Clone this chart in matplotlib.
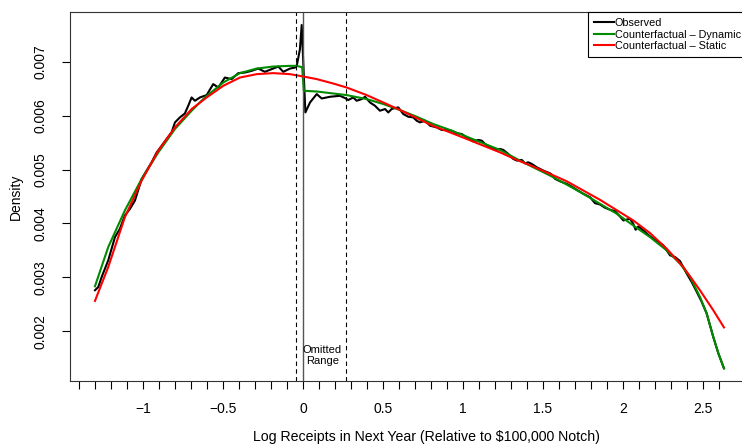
import matplotlib
matplotlib.use("Agg")
import matplotlib.pyplot as plt
import numpy as np

plt.rcParams['font.family'] = ['Liberation Sans', 'DejaVu Sans']

# observed density
obs_x = [-1.300, -1.279, -1.258, -1.217, -1.175, -1.144, -1.113, -1.081, -1.050, -1.008,
         -0.977, -0.946, -0.914, -0.883, -0.852, -0.821, -0.800, -0.769, -0.738, -0.717,
         -0.696, -0.675, -0.644, -0.602, -0.561, -0.529, -0.488, -0.446, -0.404, -0.363,
         -0.321, -0.279, -0.238, -0.196, -0.154, -0.123, -0.081, -0.050, -0.039, -0.019,
         -0.008, 0.015, 0.044, 0.086, 0.117, 0.169, 0.231, 0.263, 0.283, 0.314,
         0.336, 0.367, 0.388, 0.419, 0.450, 0.481, 0.513, 0.533, 0.554, 0.575,
         0.596, 0.627, 0.658, 0.689, 0.711, 0.731, 0.763, 0.794, 0.836, 0.867,
         0.898, 0.929, 0.961, 0.992, 1.023, 1.064, 1.096, 1.117, 1.138, 1.169,
         1.211, 1.231, 1.252, 1.283, 1.314, 1.336, 1.367, 1.388, 1.408, 1.429,
         1.461, 1.502, 1.544, 1.554, 1.575, 1.606, 1.648, 1.679, 1.711, 1.752,
         1.794, 1.825, 1.856, 1.888, 1.919, 1.950, 1.981, 2.002, 2.044, 2.064,
         2.079, 2.096, 2.127, 2.169, 2.221, 2.252, 2.294, 2.325, 2.356, 2.398,
         2.429, 2.461, 2.492, 2.523, 2.564, 2.596, 2.631]
obs_y = [0.002759, 0.002820, 0.003006, 0.003315, 0.003746, 0.003902, 0.004148, 0.004272, 0.004426, 0.004828,
         0.004981, 0.005135, 0.005320, 0.005444, 0.005569, 0.005691, 0.005876, 0.005969, 0.006043, 0.006185,
         0.006339, 0.006278, 0.006339, 0.006383, 0.006587, 0.006524, 0.006709, 0.006680, 0.006791, 0.006802,
         0.006833, 0.006876, 0.006815, 0.006865, 0.006913, 0.006815, 0.006876, 0.006894, 0.006926, 0.007235,
         0.007685, 0.006061, 0.006246, 0.006402, 0.006320, 0.006352, 0.006370, 0.006328, 0.006291, 0.006339,
         0.006278, 0.006309, 0.006352, 0.006246, 0.006185, 0.006093, 0.006124, 0.006061, 0.006124, 0.006143,
         0.006154, 0.006031, 0.005981, 0.005969, 0.005907, 0.005876, 0.005907, 0.005815, 0.005783, 0.005735,
         0.005735, 0.005722, 0.005672, 0.005661, 0.005598, 0.005524, 0.005550, 0.005537, 0.005476, 0.005413,
         0.005365, 0.005383, 0.005365, 0.005291, 0.005198, 0.005167, 0.005180, 0.005117, 0.005135, 0.005106,
         0.005043, 0.004981, 0.004931, 0.004907, 0.004828, 0.004783, 0.004735, 0.004685, 0.004624, 0.004550,
         0.004487, 0.004376, 0.004352, 0.004291, 0.004254, 0.004228, 0.004130, 0.004056, 0.004087, 0.003994,
         0.003883, 0.003944, 0.003870, 0.003759, 0.003654, 0.003593, 0.003407, 0.003376, 0.003302, 0.003069,
         0.002913, 0.002728, 0.002543, 0.002328, 0.001894, 0.001587, 0.001309]

# counterfactual - dynamic
dyn_x = [-1.300, -1.217, -1.113, -1.008, -0.904, -0.800, -0.696, -0.613, -0.498, -0.394,
         -0.289, -0.186, -0.081, -0.039, -0.005, 0.005, 0.086, 0.189, 0.273, 0.398,
         0.502, 0.606, 0.711, 0.814, 0.919, 1.023, 1.127, 1.231, 1.336, 1.439,
         1.544, 1.648, 1.752, 1.856, 1.961, 2.064, 2.169, 2.273, 2.356, 2.419,
         2.481, 2.523, 2.564, 2.596, 2.631]
dyn_y = [0.002833, 0.003561, 0.004241, 0.004828, 0.005320, 0.005754, 0.006093, 0.006339, 0.006617, 0.006791,
         0.006876, 0.006913, 0.006926, 0.006926, 0.006900, 0.006463, 0.006450, 0.006413, 0.006383, 0.006309,
         0.006217, 0.006106, 0.005981, 0.005846, 0.005735, 0.005611, 0.005487, 0.005365, 0.005198, 0.005043,
         0.004889, 0.004722, 0.004550, 0.004365, 0.004180, 0.003963, 0.003746, 0.003500, 0.003254, 0.003006,
         0.002635, 0.002328, 0.001894, 0.001587, 0.001309]

# counterfactual - static
sta_x = [-1.300, -1.217, -1.113, -1.008, -0.904, -0.800, -0.696, -0.602, -0.498, -0.394,
         -0.289, -0.186, -0.081, 0.002, 0.086, 0.189, 0.273, 0.398, 0.502, 0.606,
         0.711, 0.814, 0.919, 1.023, 1.127, 1.231, 1.336, 1.439, 1.544, 1.648,
         1.752, 1.856, 1.981, 2.064, 2.169, 2.273, 2.377, 2.481, 2.564, 2.631]
sta_y = [0.002561, 0.003191, 0.004117, 0.004796, 0.005352, 0.005783, 0.006124, 0.006339, 0.006556, 0.006709,
         0.006772, 0.006791, 0.006772, 0.006728, 0.006680, 0.006598, 0.006524, 0.006383, 0.006246, 0.006106,
         0.005957, 0.005809, 0.005691, 0.005569, 0.005444, 0.005320, 0.005180, 0.005056, 0.004920, 0.004783,
         0.004611, 0.004439, 0.004209, 0.004056, 0.003820, 0.003531, 0.003191, 0.002759, 0.002389, 0.002069]

notch = 0.0
omit_lo, omit_hi = -0.045, 0.27
xticks_minor = np.round(np.arange(-1.4, 2.61, 0.1), 1)
xticks_major = [-1, -0.5, 0, 0.5, 1, 1.5, 2, 2.5]
xlabels = ["\u22121", "\u22120.5", "0", "0.5", "1", "1.5", "2", "2.5"]
yticks = [0.002, 0.003, 0.004, 0.005, 0.006, 0.007]

fig = plt.figure(figsize=(7.42, 4.44), dpi=100)
ax = fig.add_axes([70 / 742, 63 / 444, 677 / 742, 369 / 444])

ax.plot(obs_x, obs_y, color='black', lw=1.5, label='Observed')
ax.plot(dyn_x, dyn_y, color='#008B00', lw=1.5, label='Counterfactual \u2013 Dynamic')
ax.plot(sta_x, sta_y, color='#FF0000', lw=1.5, label='Counterfactual \u2013 Static')

ax.axvline(notch, color='#555555', lw=1.0)
ax.axvline(omit_lo, color='black', lw=0.8, ls=(0, (4, 3)))
ax.axvline(omit_hi, color='black', lw=0.8, ls=(0, (4, 3)))
ax.text(0.12, 0.00155, "Omitted\nRange", ha='center', va='center', fontsize=8, linespacing=1.15)

ax.set_xlim(-1.456, 2.775)
ax.set_ylim(0.001074, 0.007926)

ax.set_xticks(xticks_major)
ax.set_xticklabels(xlabels)
ax.set_xticks(xticks_minor, minor=True)
ax.tick_params(axis='x', which='both', length=6, width=0.8, direction='out')
ax.tick_params(axis='x', which='major', pad=9, labelsize=10)

ax.set_yticks(yticks)
ax.set_yticklabels(["0.002", "0.003", "0.004", "0.005", "0.006", "0.007"], rotation=90, va='center')
ax.tick_params(axis='y', length=6, width=0.8, direction='out', labelsize=10, pad=10)

for s in ax.spines.values():
    s.set_linewidth(0.8)
    s.set_color('#333333')

ax.set_xlabel("Log Receipts in Next Year (Relative to $100,000 Notch)", fontsize=10.2, labelpad=10, x=0.526)
ax.set_ylabel("Density", fontsize=10, labelpad=8)

leg = ax.legend(loc='upper right', bbox_to_anchor=(1.0, 1.0), borderaxespad=0, fontsize=7.8,
                frameon=True, fancybox=False, edgecolor='black', framealpha=1,
                handlelength=1.8, handletextpad=0.1, labelspacing=0.15, borderpad=0.55)
leg.get_frame().set_linewidth(0.8)

plt.savefig("out.png", dpi=100)
